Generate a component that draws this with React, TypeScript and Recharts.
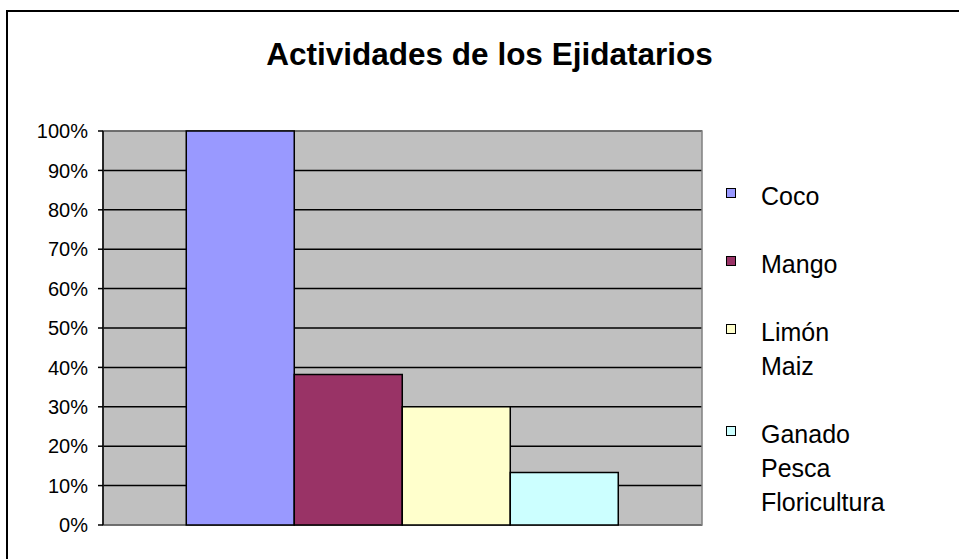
import { BarChart, Bar, XAxis, YAxis, CartesianGrid, ReferenceArea } from 'recharts'

const TITLE = 'Actividades de los Ejidatarios'

const seriesKeys = ['coco', 'mango', 'limon', 'ganado']
const seriesLabels = [['Coco'], ['Mango'], ['Limón', 'Maiz'], ['Ganado', 'Pesca', 'Floricultura']]
const seriesColors = ['#9999FF', '#993366', '#FFFFCC', '#CCFFFF']
const seriesValues = [1.0, 0.382, 0.3, 0.133]

const yTicks = [0, 0.1, 0.2, 0.3, 0.4, 0.5, 0.6, 0.7, 0.8, 0.9, 1.0]

const FONT = '"Liberation Sans", Arial, sans-serif'

const chartData = [
  seriesKeys.reduce<Record<string, number | string>>(
    (row, key, i) => {
      row[key] = seriesValues[i]
      return row
    },
    { name: 'Actividades' }
  ),
]

function LegendBox() {
  return (
    <div
      style={{
        position: 'absolute',
        left: 720,
        top: 179,
        width: 230,
        fontFamily: FONT,
        fontSize: 25,
        lineHeight: '34px',
        color: '#000',
      }}
    >
      {seriesLabels.map((lines, i) => (
        <div key={seriesKeys[i]} style={{ position: 'relative', paddingLeft: 41, marginBottom: 34 }}>
          <span
            style={{
              position: 'absolute',
              left: 6,
              top: 9,
              width: 8,
              height: 8,
              background: seriesColors[i],
              border: '1px solid #000',
            }}
          />
          {lines.map((l) => (
            <div key={l}>{l}</div>
          ))}
        </div>
      ))}
    </div>
  )
}

export default function App() {
  return (
    <div
      style={{
        position: 'absolute',
        left: 0,
        top: 0,
        width: 959,
        height: 559,
        overflow: 'hidden',
        background: '#fff',
      }}
    >
      <div
        style={{
          position: 'absolute',
          left: 6,
          top: 10,
          width: 1000,
          height: 600,
          border: '2px solid #000',
        }}
      />
      <div
        style={{
          position: 'absolute',
          left: 0,
          width: 979,
          top: 36,
          textAlign: 'center',
          fontFamily: FONT,
          fontWeight: 'bold',
          fontSize: 31.5,
          lineHeight: '36px',
        }}
      >
        {TITLE}
      </div>
      <div style={{ position: 'absolute', left: 0, top: 0 }}>
        <BarChart
          width={959}
          height={559}
          data={chartData}
          margin={{ top: 131, right: 257, bottom: 34, left: 43 }}
          barCategoryGap="13.9%"
          barGap={0}
        >
          <CartesianGrid vertical={false} fill="#C0C0C0" stroke="#000" strokeWidth={1.5} />
          <ReferenceArea y1={0} y2={1} fill="none" stroke="#808080" strokeWidth={1.5} ifOverflow="visible" />
          <XAxis dataKey="name" hide />
          <YAxis
            width={60}
            domain={[0, 1]}
            ticks={yTicks}
            interval={0}
            tickFormatter={(v: number) => `${Math.round(v * 100)}%`}
            tick={{ fill: '#000', fontSize: 20, fontFamily: FONT }}
            tickSize={5}
            tickMargin={10}
            axisLine={{ stroke: '#000', strokeWidth: 1.5 }}
            tickLine={{ stroke: '#000', strokeWidth: 1.5 }}
          />
          {seriesKeys.map((key, i) => (
            <Bar
              key={key}
              dataKey={key}
              name={seriesLabels[i].join(' ')}
              fill={seriesColors[i]}
              stroke="#000"
              strokeWidth={1.5}
              isAnimationActive={false}
            />
          ))}
        </BarChart>
      </div>
      <LegendBox />
    </div>
  )
}
